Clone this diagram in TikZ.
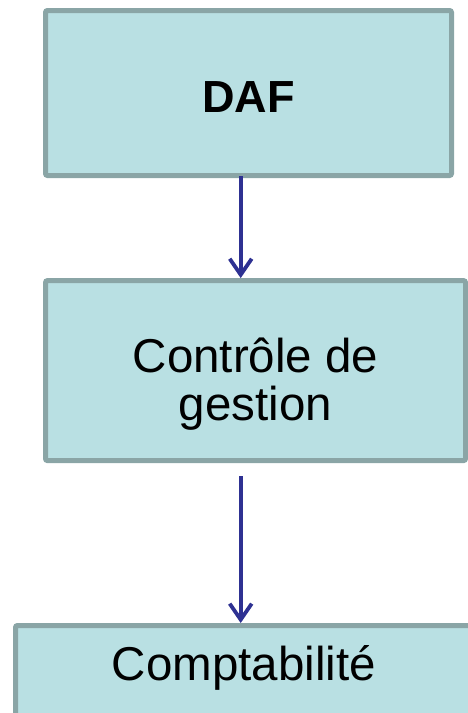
\documentclass[tikz,border=0pt]{standalone}
\usepackage{fontspec}
\setmainfont{Liberation Sans}
\usetikzlibrary{arrows.meta}
\definecolor{boxfill}{HTML}{B9E0E3}
\definecolor{boxline}{HTML}{8AA5A6}
\definecolor{arrowblue}{HTML}{2E3192}
\tikzset{
  orgbox/.style={draw=boxline, fill=boxfill, line width=5pt, rounded corners=2pt,
    outer sep=0pt, inner sep=0pt, align=center},
  flow/.style={draw=arrowblue, line width=3.8pt,
    -{Straight Barb[length=16pt,width=22pt,line width=3.8pt]}},
  bigtext/.style={font=\fontsize{47.5pt}{45pt}\selectfont}
}
\begin{document}
\begin{tikzpicture}[x=1pt,y=-1pt]
\useasboundingbox (0,0) rectangle (468,713);
\clip (0,0) rectangle (468,713);
\node[orgbox, minimum width=406pt, minimum height=165pt,
  font=\fontsize{45pt}{45pt}\selectfont\bfseries] (daf) at (248.5,93)
  {\raisebox{-19.3pt}[0pt][0pt]{DAF}};
\node[orgbox, minimum width=420pt, minimum height=180pt, bigtext] (cg) at (255.5,370.6)
  {\raisebox{-49.4pt}[0pt][0pt]{\begin{tabular}[b]{@{}c@{}}Contrôle de\\gestion\end{tabular}}};
\node[orgbox, minimum width=457pt, minimum height=160pt, bigtext] (compta) at (244,705.5)
  {\raisebox{25.5pt}[0pt][0pt]{Comptabilité}};
\coordinate (ax) at (240.7,0);
\draw[flow, shorten >=2.5pt, shorten <=0.5pt] (daf.south -| ax) -- (cg.north -| ax);
\draw[flow, shorten >=2.5pt, shorten <=15.5pt] (cg.south -| ax) -- (compta.north -| ax);
\end{tikzpicture}
\end{document}
